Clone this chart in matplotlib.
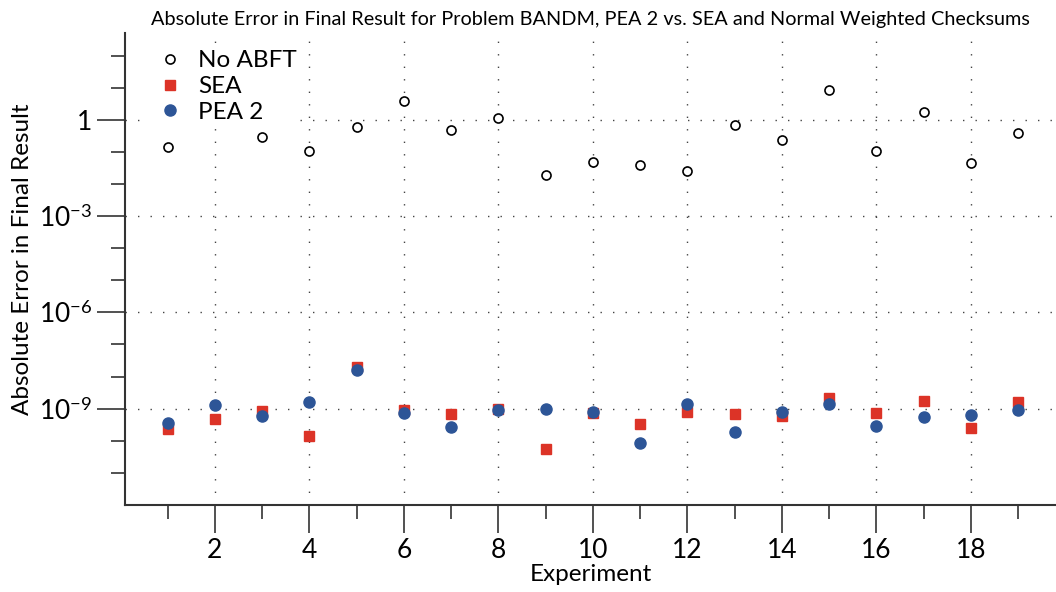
import matplotlib
matplotlib.use('Agg')
import numpy as np
import matplotlib.pyplot as plt
from matplotlib.ticker import NullFormatter

plt.rcParams['font.family'] = ['Lato', 'DejaVu Sans']
plt.rcParams['mathtext.fontset'] = 'custom'
plt.rcParams['mathtext.rm'] = 'Lato'
plt.rcParams['mathtext.it'] = 'Lato:italic'

# data (experiment 2 has no No-ABFT point)
experiments = np.arange(1, 20)
no_abft = [0.142, np.nan, 0.297, 0.104, 0.577, 3.81, 0.479, 1.1, 0.0196, 0.0486,
           0.040, 0.0248, 0.684, 0.234, 8.55, 0.109, 1.69, 0.0452, 0.395]
sea = [2.39e-10, 4.89e-10, 8.5e-10, 1.38e-10, 2.06e-8, 9.3e-10, 6.65e-10, 9.5e-10, 5.7e-11, 7.35e-10,
       3.42e-10, 7.7e-10, 7.0e-10, 6.07e-10, 2.15e-9, 7.35e-10, 1.73e-9, 2.5e-10, 1.57e-9]
pea2 = [3.6e-10, 1.33e-9, 6.07e-10, 1.61e-9, 1.63e-8, 7.15e-10, 2.63e-10, 9.1e-10, 9.5e-10, 7.9e-10,
        8.6e-11, 1.36e-9, 1.84e-10, 8.07e-10, 1.4e-9, 2.9e-10, 5.37e-10, 6.5e-10, 9.3e-10]

fig = plt.figure(figsize=(10.56, 5.92), dpi=100)
ax = fig.add_axes([0.1184, 0.147, 0.8816, 0.797])

ax.plot(experiments, no_abft, 'o', ls='none', mfc='white', mec='black', mew=1.2, ms=6.5,
        label='No ABFT', zorder=3)
ax.plot(experiments, sea, 's', ls='none', color='#dc3327', ms=7.5, label='SEA', zorder=3)
ax.plot(experiments, pea2, 'o', ls='none', color='#2d5597', ms=8, label='PEA 2', zorder=4)

ax.set_yscale('log')
ax.set_ylim(1e-12, 5e2)
ax.set_xlim(0.1, 19.8)

ax.set_xticks(range(2, 20, 2))
ax.set_xticks(range(1, 20, 2), minor=True)
ax.set_yticks([1e-9, 1e-6, 1e-3, 1])
ax.set_yticklabels(['$10^{-9}$', '$10^{-6}$', '$10^{-3}$', '1'])
ax.set_yticks([10.0 ** k for k in range(-12, 3) if k % 3 != 0], minor=True)
ax.yaxis.set_minor_formatter(NullFormatter())
ax.tick_params(which='major', length=20, width=1.2, labelsize=19, color='#333333')
ax.tick_params(which='minor', length=10, width=1.2, color='#333333')

for s in ['top', 'right']:
    ax.spines[s].set_visible(False)
for s in ['left', 'bottom']:
    ax.spines[s].set_linewidth(1.5)
    ax.spines[s].set_color('#333333')

ax.grid(True, which='major', color='#444444', linestyle=(0, (1, 8)), linewidth=1.0)

ax.set_xlabel('Experiment', fontsize=17.5, labelpad=1)
ax.set_ylabel('Absolute Error in Final Result', fontsize=17.5, labelpad=4, y=0.52)
ax.set_title('Absolute Error in Final Result for Problem BANDM, PEA 2 vs. SEA and Normal Weighted Checksums',
             fontsize=14.3, pad=6)

# legend without border but with an opaque white box over the grid
leg = ax.legend(loc='upper left', frameon=True, fontsize=17.5, handletextpad=0.15,
                labelspacing=0.2, borderaxespad=0.6, borderpad=0.1, bbox_to_anchor=(0.004, 1.0),
                fancybox=False, framealpha=1.0, facecolor='white', edgecolor='none')
leg.set_zorder(5)

fig.savefig('out.png', dpi=100)
